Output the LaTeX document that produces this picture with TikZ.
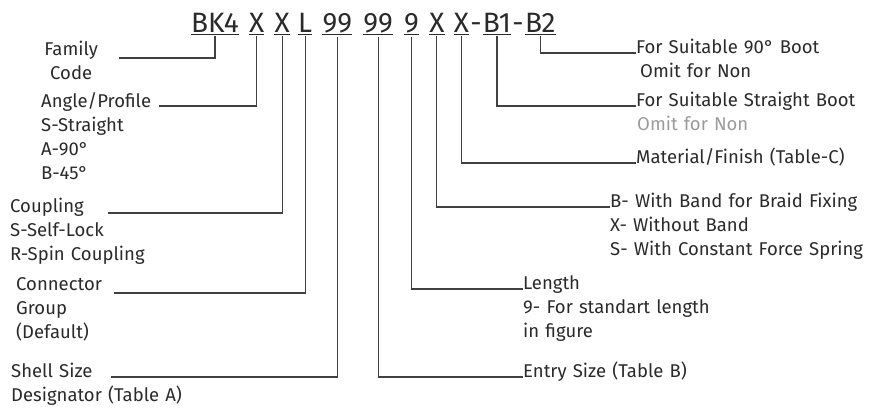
\documentclass[tikz,border=0pt]{standalone}
\usepackage{fontspec}
\setmainfont{Fira Sans}
\usetikzlibrary{positioning}
\definecolor{pninkdark}{HTML}{2A2A2A}
\definecolor{pnline}{HTML}{404040}
\definecolor{pnsoft}{HTML}{9A9A9A}
\begin{document}
\begin{tikzpicture}[
 x=1pt,y=-1pt,
 codepart/.style={inner xsep=0pt,inner ysep=4pt,text=pninkdark,font=\fontsize{28}{30}\selectfont},
 codedash/.style={inner sep=0pt,text=pninkdark,font=\fontsize{28}{30}\selectfont},
 desc/.style={inner sep=0pt,align=left,text width=280pt,text=pninkdark,font=\fontsize{18.5}{24}\selectfont},
 lead/.style={draw=pnline,line width=1.1pt},
 uline/.style={draw=pninkdark,line width=1.2pt}
]
\useasboundingbox (0,0) rectangle (878,407);
\node[codepart,anchor=base west] (family) at (191,32) {BK4};
\node[codepart,base right=10pt of family] (angle) {X};
\node[codepart,base right=10pt of angle] (coupling) {X};
\node[codepart,base right=8pt of coupling] (group) {L};
\node[codepart,base right=10pt of group] (shell) {99};
\node[codepart,base right=11pt of shell] (entry) {99};
\node[codepart,base right=11pt of entry] (length) {9};
\node[codepart,base right=10pt of length] (band) {X};
\node[codepart,base right=9pt of band] (finish) {X};
\node[codedash,base right=1pt of finish] (dasha) {-};
\node[codepart,base right=1pt of dasha] (straight) {B1};
\node[codedash,base right=1pt of straight] (dashb) {-};
\node[codepart,base right=1pt of dashb] (ninety) {B2};
\foreach \p in {family,angle,coupling,group,shell,entry,length,band,finish,straight,ninety}
  \draw[uline] ([yshift=2pt]\p.south west) -- ([yshift=2pt]\p.south east);
\node[desc,align=center,text width=56pt,anchor=base west] (familytxt) at (43,55) {Family\\Code};
\node[desc,anchor=base west] (angletxt) at (41,107) {Angle/Profile\\S-Straight\\A-90°\\B-45°};
\node[desc,anchor=base west] (couplingtxt) at (10,212) {Coupling\\S-Self-Lock\\R-Spin Coupling};
\node[desc,anchor=base west] (grouptxt) at (16,290) {Connector\\Group\\(Default)};
\node[desc,anchor=base west] (shelltxt) at (11,377) {Shell Size\\Designator (Table A)};
\node[desc,anchor=base west] (ninetytxt) at (636,53) {For Suitable 90° Boot\\\hspace*{4pt}Omit for Non};
\node[desc,anchor=base west] (straighttxt) at (636,106) {For Suitable Straight Boot};
\node[desc,anchor=base west,text=pnsoft] (straightomit) at (637,130) {Omit for Non};
\node[desc,anchor=base west] (finishtxt) at (636,163) {Material/Finish (Table-C)};
\node[desc,anchor=base west] (bandtxt) at (610,207) {B- With Band for Braid Fixing\\X- Without Band\\S- With Constant Force Spring};
\node[desc,anchor=base west] (lengthtxt) at (523,289) {Length\\9- For standart length\\in figure};
\node[desc,anchor=base west] (entrytxt) at (523,377) {Entry Size (Table B)};
\coordinate (familyend) at (119,58);
\coordinate (angleend) at (159,106);
\coordinate (couplingend) at (108,213);
\coordinate (groupend) at (114,293);
\coordinate (shellend) at (111,377);
\draw[lead] (family.south) |- (familyend);
\draw[lead] (angle.south) |- (angleend);
\draw[lead] (coupling.south) |- (couplingend);
\draw[lead] (group.south) |- (groupend);
\draw[lead] (shell.south) |- (shellend);
\draw[lead] (entry.south) |- (entrytxt.base west);
\draw[lead] (length.south) |- (lengthtxt.base west);
\draw[lead] (band.south) |- (bandtxt.base west);
\draw[lead] (finish.south) |- (finishtxt.base west);
\draw[lead] (straight.south) |- (straighttxt.base west);
\draw[lead] (ninety.south) |- (ninetytxt.base west);
\end{tikzpicture}
\end{document}
